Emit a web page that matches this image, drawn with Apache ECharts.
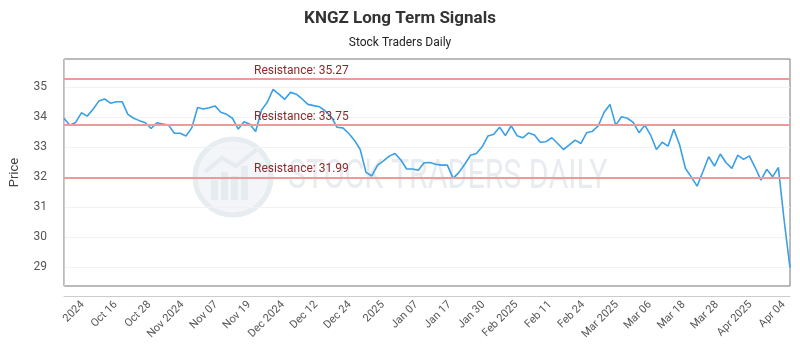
<!DOCTYPE html>
<html>
<head>
<meta charset="utf-8">
<script src="https://cdn.jsdelivr.net/npm/echarts@6/dist/echarts.min.js"></script>
<style>
html,body{margin:0;padding:0;background:#fff;}
#chart{width:800px;height:350px;}
</style>
</head>
<body>
<div id="chart"></div>
<script>
// Closing prices, one per trading session
const prices = [
  33.96, 33.73, 33.82, 34.14, 34.03, 34.26, 34.53, 34.60, 34.46, 34.51,
  34.51, 34.09, 33.96, 33.88, 33.81, 33.62, 33.81, 33.77, 33.73, 33.46,
  33.46, 33.37, 33.64, 34.32, 34.27, 34.31, 34.37, 34.16, 34.09, 33.96,
  33.60, 33.84, 33.76, 33.52, 34.23, 34.49, 34.92, 34.76, 34.59, 34.82,
  34.76, 34.60, 34.42, 34.38, 34.34, 34.20, 34.01, 33.66, 33.64, 33.46,
  33.23, 32.92, 32.16, 32.04, 32.40, 32.54, 32.70, 32.79, 32.57, 32.27,
  32.27, 32.23, 32.48, 32.49, 32.43, 32.40, 32.40, 31.96, 32.16, 32.43,
  32.73, 32.79, 33.01, 33.37, 33.43, 33.66, 33.38, 33.71, 33.38, 33.31,
  33.47, 33.40, 33.16, 33.18, 33.31, 33.12, 32.92, 33.07, 33.23, 33.12,
  33.48, 33.53, 33.71, 34.16, 34.42, 33.73, 34.01, 33.96, 33.82, 33.48,
  33.73, 33.40, 32.92, 33.16, 33.03, 33.59, 33.07, 32.29, 32.01, 31.70,
  32.18, 32.68, 32.37, 32.77, 32.48, 32.29, 32.73, 32.59, 32.71, 32.32,
  31.90, 32.26, 32.01, 32.32, 30.55, 28.99
];

// Resistance levels
const resistance = [35.27, 33.75, 31.99];

// X tick labels and where they sit (in session-index units)
const tickLabels = [
  "2024", "Oct 16", "Oct 28", "Nov 2024", "Nov 07", "Nov 19", "Dec 2024",
  "Dec 12", "Dec 24", "2025", "Jan 07", "Jan 17", "Jan 30", "Feb 2025",
  "Feb 11", "Feb 24", "Mar 2025", "Mar 06", "Mar 18", "Mar 28",
  "Apr 2025", "Apr 04"
];
const tickAt = [
  3.2, 8.9, 14.7, 20.4, 26.2, 31.9, 37.7, 43.4, 49.2, 54.9, 60.7,
  66.4, 72.2, 77.9, 83.7, 89.4, 95.2, 100.9, 106.7, 112.4, 118.2, 123.9
];

// Y tick labels
const yTicks = [29, 30, 31, 32, 33, 34, 35];

const chart = echarts.init(document.getElementById('chart'), null, {renderer: 'canvas'});

const FONT = 'Roboto';

const option = {
  backgroundColor: '#ffffff',
  animation: false,
  title: {
    text: 'KNGZ Long Term Signals',
    subtext: 'Stock Traders Daily',
    left: 'center',
    top: 5,
    itemGap: 10,
    textStyle: {fontFamily: FONT, fontSize: 17, fontWeight: 'bold', color: '#333'},
    subtextStyle: {fontFamily: FONT, fontSize: 12, color: '#222'}
  },
  graphic: [
    {
      type: 'group',
      silent: true,
      z: 0,
      children: [
        {type: 'circle', shape: {cx: 233, cy: 177, r: 38},
         style: {fill: '#f3f5f8', stroke: '#e7ecf0', lineWidth: 5}},
        {type: 'rect', shape: {x: 211, y: 180, width: 7, height: 20}, style: {fill: '#e6ebef'}},
        {type: 'rect', shape: {x: 221, y: 172, width: 7, height: 28}, style: {fill: '#e6ebef'}},
        {type: 'rect', shape: {x: 231, y: 176, width: 7, height: 24}, style: {fill: '#e6ebef'}},
        {type: 'rect', shape: {x: 241, y: 166, width: 7, height: 34}, style: {fill: '#e6ebef'}},
        {type: 'polyline', shape: {points: [[205, 172], [222, 158], [236, 166], [256, 150]]},
         style: {stroke: '#e6ebef', lineWidth: 4, fill: null}},
        {type: 'text', x: 288, y: 178, scaleX: 0.74,
         style: {text: 'STOCK TRADERS DAILY', fontFamily: FONT, fontSize: 41,
                 fill: '#e8ecf1', textVerticalAlign: 'middle', textAlign: 'left'}}
      ]
    }
  ],
  grid: {
    left: 60, right: 10, top: 59, bottom: 64,
    show: true, borderColor: '#777', borderWidth: 1, backgroundColor: 'transparent',
    containLabel: false
  },
  xAxis: {
    type: 'value',
    min: 0,
    max: prices.length - 1,
    offset: 10,
    axisLine: {show: true, lineStyle: {color: '#ccc', width: 1}},
    axisTick: {show: false, customValues: tickAt},
    splitLine: {show: false},
    axisLabel: {
      customValues: tickAt,
      rotate: 45,
      margin: 7,
      fontFamily: FONT,
      fontSize: 11,
      color: '#555',
      formatter: function (val) {
        let best = 0, d = Infinity;
        for (let i = 0; i < tickAt.length; i++) {
          const dd = Math.abs(tickAt[i] - val);
          if (dd < d) { d = dd; best = i; }
        }
        return tickLabels[best];
      }
    }
  },
  yAxis: {
    type: 'value',
    min: 28.38,
    max: 35.93,
    offset: 10,
    name: 'Price',
    nameLocation: 'middle',
    nameGap: 33,
    nameTextStyle: {fontFamily: FONT, fontSize: 13, color: '#444'},
    axisLine: {show: true, lineStyle: {color: '#ccc', width: 1}},
    axisTick: {show: false, customValues: yTicks},
    axisLabel: {customValues: yTicks, margin: 7, fontFamily: FONT, fontSize: 12, color: '#555'},
    splitLine: {show: true, lineStyle: {color: '#f2f2f2', width: 1}}
  },
  series: [
    {
      type: 'line',
      data: prices.map((v, i) => [i, v]),
      showSymbol: false,
      symbol: 'none',
      lineStyle: {color: '#3a9fe6', width: 1.6},
      z: 3,
      markLine: {
        silent: true,
        symbol: ['none', 'none'],
        lineStyle: {color: '#ee9a9a', width: 2, type: 'solid'},
        label: {
          show: true,
          position: 'insideStartTop',
          distance: [190, 2],
          fontFamily: FONT,
          fontSize: 12,
          color: '#8c2a2a',
          formatter: function (p) { return 'Resistance: ' + p.value.toFixed(2); }
        },
        data: resistance.map(v => ({yAxis: v}))
      }
    }
  ]
};

chart.setOption(option);
</script>
</body>
</html>
